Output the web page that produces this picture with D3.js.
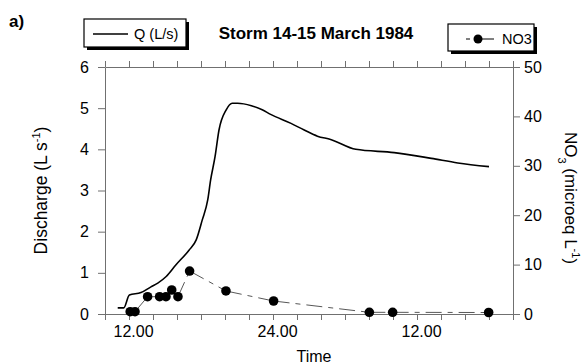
<!DOCTYPE html>
<html>
<head>
<meta charset="utf-8">
<script src="https://cdn.jsdelivr.net/npm/d3@7/dist/d3.min.js"></script>
<style>
  body { margin: 0; background: #fff; }
  svg { display: block; font-family: "Liberation Sans", Arial, sans-serif; }
</style>
</head>
<body>
<svg id="chart" width="587" height="364"></svg>
<script>
// ---- data (time in hours from 00:00 of 14 March) ----
const qTime = [11.06, 11.56, 12.03, 13.0, 13.83, 14.4, 15.1, 15.9, 17.0, 17.6, 18.1, 18.56, 18.8, 19.17, 19.5, 20.1, 20.6, 21.05, 22.2, 23.1, 23.8, 25.5, 26.6, 27.7, 28.8, 30.9, 34.1, 37.2, 39.4, 42.0];
const qValue = [0.15, 0.15, 0.46, 0.52, 0.66, 0.75, 0.91, 1.19, 1.55, 1.80, 2.28, 2.77, 3.25, 3.82, 4.47, 4.96, 5.12, 5.12, 5.06, 4.96, 4.85, 4.63, 4.47, 4.32, 4.24, 4.0, 3.92, 3.78, 3.67, 3.58];
const no3Time = [12.1, 12.5, 13.55, 14.55, 15.08, 15.56, 16.08, 17.05, 20.08, 24.05, 32.03, 33.97, 41.97];
const no3Value = [0.47, 0.47, 3.5, 3.5, 3.5, 4.86, 3.5, 8.7, 4.66, 2.63, 0.34, 0.34, 0.3];
const xTicks = [10, 12, 14, 16, 18, 20, 22, 24, 26, 28, 30, 32, 34, 36, 38, 40, 42, 44];
const xTickLabels = { 12: "12.00", 24: "24.00", 36: "12.00" };
const yLeftTicks = [0, 1, 2, 3, 4, 5, 6];
const yRightTicks = [0, 10, 20, 30, 40, 50];

const svg = d3.select("#chart");
const L = 105, R = 513, T = 67, B = 314;
const x = d3.scaleLinear().domain([10, 44]).range([L, R]);
const yL = d3.scaleLinear().domain([0, 6]).range([B, T]);
const yR = d3.scaleLinear().domain([0, 50]).range([B, T]);

const axisColor = "#707070";
function styleAxis(g) {
  g.selectAll(".domain").attr("stroke", axisColor).attr("stroke-width", 1);
  g.selectAll(".tick line").attr("stroke", axisColor);
  g.selectAll("text").attr("fill", "#000").style("font-size", "16px")
    .style("font-family", "'Liberation Sans', Arial, sans-serif");
}

// bottom axis
svg.append("g").attr("transform", `translate(0,${B})`)
  .call(d3.axisBottom(x).tickValues(xTicks).tickSize(6).tickSizeOuter(0)
    .tickFormat(d => xTickLabels[d] || "").tickPadding(6))
  .call(styleAxis)
  .call(g => g.selectAll("text").attr("dx", 4));
// top axis
svg.append("g").attr("transform", `translate(0,${T})`)
  .call(d3.axisTop(x).tickValues(xTicks).tickSize(6).tickSizeOuter(0).tickFormat(""))
  .call(styleAxis);
// left axis
svg.append("g").attr("transform", `translate(${L},0)`)
  .call(d3.axisLeft(yL).tickValues(yLeftTicks).tickSize(7).tickSizeOuter(0).tickPadding(9).tickFormat(d3.format("d")))
  .call(styleAxis);
// right axis
svg.append("g").attr("transform", `translate(${R},0)`)
  .call(d3.axisRight(yR).tickValues(yRightTicks).tickSize(7).tickSizeOuter(0).tickPadding(4).tickFormat(d3.format("d")))
  .call(styleAxis);

// Q line
const qData = qTime.map((t, i) => ({ t, v: qValue[i] }));
svg.append("path").datum(qData)
  .attr("fill", "none").attr("stroke", "#000").attr("stroke-width", 1.6)
  .attr("stroke-linejoin", "round")
  .attr("d", d3.line().curve(d3.curveMonotoneX).x(d => x(d.t)).y(d => yL(d.v)));

// NO3 line: segments each starting a fresh dash pattern
const nData = no3Time.map((t, i) => ({ t, v: no3Value[i] }));
for (let i = 0; i < nData.length - 1; i++) {
  svg.append("line")
    .attr("x1", x(nData[i].t)).attr("y1", yR(nData[i].v))
    .attr("x2", x(nData[i + 1].t)).attr("y2", yR(nData[i + 1].v))
    .attr("stroke", "#444").attr("stroke-width", 0.9)
    .attr("stroke-dasharray", "16,6,5,6");
}
svg.append("g").selectAll("circle").data(nData).join("circle")
  .attr("cx", d => x(d.t)).attr("cy", d => yR(d.v)).attr("r", 4.8).attr("fill", "#000");

// axis titles
svg.append("text").attr("x", 314).attr("y", 362).attr("text-anchor", "middle")
  .style("font-size", "16px").text("Time");
const lt = svg.append("text").attr("transform", `translate(47,${(T + B) / 2}) rotate(-90)`)
  .attr("text-anchor", "middle").style("font-size", "17.5px");
lt.append("tspan").text("Discharge (L s");
lt.append("tspan").attr("dy", -7).style("font-size", "11px").text("-1");
lt.append("tspan").attr("dy", 7).text(")");
const rt = svg.append("text").attr("transform", `translate(565,198) rotate(90)`)
  .attr("text-anchor", "middle").style("font-size", "17px");
rt.append("tspan").text("NO");
rt.append("tspan").attr("dy", 7).style("font-size", "11px").text("3");
rt.append("tspan").attr("dy", -7).text(" (microeq L");
rt.append("tspan").attr("dy", -7).style("font-size", "11px").text("-1");
rt.append("tspan").attr("dy", 7).text(")");

// title and panel letter
svg.append("text").attr("x", 316).attr("y", 39).attr("text-anchor", "middle")
  .style("font-size", "17px").style("font-weight", "bold").text("Storm 14-15 March 1984");
svg.append("text").attr("x", 9).attr("y", 27)
  .style("font-size", "17px").style("font-weight", "bold").text("a)");

// legend boxes
function legendBox(x0, y0, w, h) {
  svg.append("rect").attr("x", x0 + 3).attr("y", y0 + 3).attr("width", w).attr("height", h).attr("fill", "#000");
  svg.append("rect").attr("x", x0).attr("y", y0).attr("width", w).attr("height", h)
    .attr("fill", "#fff").attr("stroke", "#000").attr("stroke-width", 1.2);
}
legendBox(84, 19, 102, 28);
svg.append("line").attr("x1", 93).attr("x2", 128).attr("y1", 34).attr("y2", 34)
  .attr("stroke", "#000").attr("stroke-width", 1.3);
svg.append("text").attr("x", 134).attr("y", 39).style("font-size", "14.5px").text("Q (L/s)");

legendBox(448, 24, 86, 27);
svg.append("line").attr("x1", 466).attr("x2", 470).attr("y1", 39).attr("y2", 39)
  .attr("stroke", "#000").attr("stroke-width", 1);
svg.append("line").attr("x1", 478).attr("x2", 494).attr("y1", 39).attr("y2", 39)
  .attr("stroke", "#000").attr("stroke-width", 1);
svg.append("circle").attr("cx", 478).attr("cy", 39).attr("r", 4.5).attr("fill", "#000");
svg.append("text").attr("x", 502).attr("y", 44).style("font-size", "14.5px").text("NO3");
</script>
</body>
</html>
